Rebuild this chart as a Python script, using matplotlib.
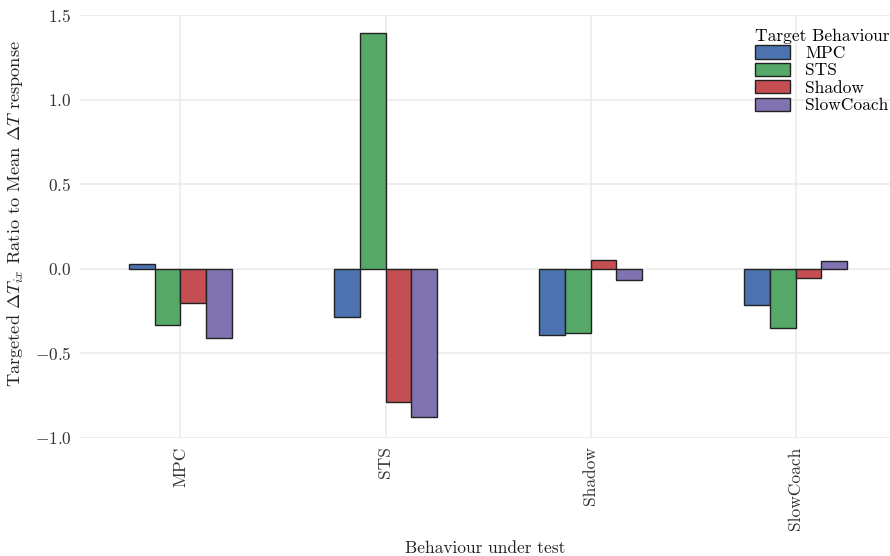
import numpy as np
import matplotlib
matplotlib.use('Agg')
import matplotlib.pyplot as plt

# Ratio of targeted dT to mean dT, per behaviour under test (rows) and target (series)
behaviours = ['MPC', 'STS', 'Shadow', 'SlowCoach']
mpc = [0.03, -0.284, -0.389, -0.211]
sts = [-0.33, 1.395, -0.379, -0.351]
shadow = [-0.20, -0.79, 0.053, -0.055]
slowcoach = [-0.41, -0.877, -0.065, 0.049]

series = [('MPC', mpc, '#4C72B0'), ('STS', sts, '#55A868'),
          ('Shadow', shadow, '#C44E52'), ('SlowCoach', slowcoach, '#8172B2')]

plt.rcParams['font.family'] = ['cmr10', 'DejaVu Serif']
plt.rcParams['mathtext.fontset'] = 'cm'
plt.rcParams['axes.formatter.use_mathtext'] = True

fig = plt.figure(figsize=(8.9, 5.56), dpi=100)
ax = fig.add_axes([80 / 890, 1 - 438 / 556, 1 - 80 / 890, (438 - 15) / 556])

x = np.arange(len(behaviours))
width = 0.5 / len(series)
for i, (name, vals, col) in enumerate(series):
    ax.bar(x - 0.25 + width * (i + 0.5), vals, width, color=col,
           edgecolor='#222222', linewidth=1.0, label=name, zorder=3)

ax.set_xlim(-0.49, 3.46)
ax.set_ylim(-1.0, 1.5)
ax.set_yticks([-1.0, -0.5, 0.0, 0.5, 1.0, 1.5])
ax.set_xticks(x)
ax.set_xticklabels(behaviours, rotation=90)
ax.grid(True, color='#ebebeb', linewidth=1.2, zorder=0)
for s in ax.spines.values():
    s.set_visible(False)
ax.tick_params(length=0, labelsize=12.5, colors='#333333', pad=6)

ax.set_ylabel(r'Targeted $\Delta T_{ix}$ Ratio to Mean $\Delta T$ response',
              fontsize=13.2, color='#222222')
ax.yaxis.set_label_coords(-0.067, 0.53)
ax.set_xlabel('Behaviour under test', fontsize=12.5, color='#222222', labelpad=8)

leg = ax.legend(title='Target Behaviour', loc='upper right',
                bbox_to_anchor=(1.008, 0.985), frameon=False, fontsize=12.5,
                title_fontsize=12.5, handlelength=2.0, handleheight=0.8,
                handletextpad=0.9, labelspacing=0.1, borderaxespad=0)
leg._legend_box.align = 'left'

fig.savefig('out.png', dpi=100)
